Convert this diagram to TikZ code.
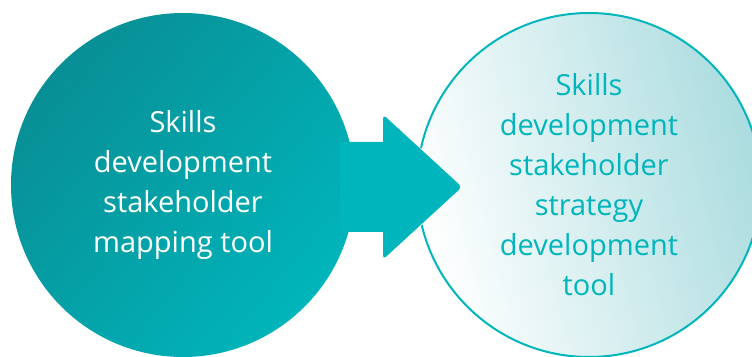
\documentclass[tikz,border=0pt]{standalone}
\usepackage{fontspec}
\setmainfont{Open Sans}
\definecolor{tealdark}{HTML}{088F95}
\definecolor{tealmid}{HTML}{2DAFB3}
\definecolor{tealbright}{HTML}{00B5BB}
\definecolor{tealpale}{HTML}{ABDCDF}
\begin{document}
\begin{tikzpicture}[x=1pt,y=1pt,
  bubble/.style={circle, minimum size=344pt, inner sep=0pt, align=center,
    font=\fontsize{29}{40}\selectfont}]
\useasboundingbox (0,0) rectangle (752,356);
\clip (0,0) rectangle (752,356);

\node[bubble, top color=tealdark, middle color=tealmid, bottom color=tealbright,
  shading angle=50, text=white] at (183,171) (mapping)
  {Skills\\development\\stakeholder\\mapping tool};
\node[bubble, draw=tealbright, line width=2pt, left color=white, right color=tealpale,
  shading angle=105, text=tealbright] at (589,171) (strategy)
  {Skills\\development\\stakeholder\\strategy\\development\\tool};

% arrow between the two tools
\draw[white, line width=3pt, line join=round] (383,241.5) -- (460,169) -- (383,96.5);
\fill[tealbright] (340,214) -- (383,214) [rounded corners=4pt] -- (383,241.5) -- (462,169)
  -- (383,96.5) [sharp corners] -- (383,124) -- (340,124) -- cycle;

\end{tikzpicture}
\end{document}
